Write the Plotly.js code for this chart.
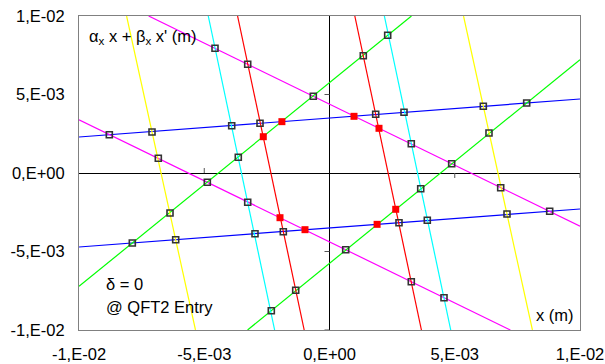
<!DOCTYPE html>
<html>
<head>
<meta charset="utf-8">
<script src="https://cdn.plot.ly/plotly-3.0.1.min.js"></script>
<style>html,body{margin:0;padding:0;background:#fff;}#chart{width:605px;height:364px;}</style>
</head>
<body>
<div id="chart"></div>
<script>
// ---- Line series (endpoints, metres) ----
const blueUpperX = [-0.01, 0.01];        const blueUpperY = [0.002293, 0.004713];
const blueLowerX = [-0.01, 0.01];        const blueLowerY = [-0.004713, -0.002293];
const magentaUpperX = [-0.00722, 0.01];  const magentaUpperY = [0.01, -0.00339];
const magentaLowerX = [-0.01, 0.00722];  const magentaLowerY = [0.00339, -0.01];
const greenLeftX = [-0.01, 0.003272];    const greenLeftY = [-0.00722, 0.01];
const greenRightX = [-0.003272, 0.01];   const greenRightY = [-0.01, 0.00722];
const yellowLeftX = [-0.0081, -0.00535]; const yellowLeftY = [0.01, -0.01];
const yellowRightX = [0.00535, 0.0081];  const yellowRightY = [0.01, -0.01];
const cyanLeftX = [-0.00484, -0.00219];  const cyanLeftY = [0.01, -0.01];
const cyanRightX = [0.00219, 0.00484];   const cyanRightY = [0.01, -0.01];
const redLeftX = [-0.00367, -0.00101];   const redLeftY = [0.01, -0.01];
const redRightX = [0.00101, 0.00367];    const redRightY = [0.01, -0.01];

// ---- Crossing points (hollow square markers) ----
const crossX = [-0.004571, 0.004571, -0.003265, 0.003265, -0.000647, 0.000647,
  0.001349, -0.001349, 0.002323, -0.002323, 0.001844, -0.001844,
  0.002974, -0.002974, 0.006140, -0.006140, 0.007872, -0.007872,
  -0.008790, 0.008790, -0.007086, 0.007086, -0.006834, 0.006834,
  -0.006367, 0.006367, -0.003904, 0.003904, -0.002774, 0.002774,
  -0.003641, 0.003641, -0.004878, 0.004878, -0.003265, 0.003265];
const crossY = [0.007943, -0.007943, 0.006924, -0.006924, 0.004885, -0.004885,
  0.007471, -0.007471, 0.008771, -0.008771, 0.003739, -0.003739,
  0.003866, -0.003866, 0.004248, -0.004248, 0.004459, -0.004459,
  0.002439, -0.002439, 0.002611, -0.002611, 0.000936, -0.000936,
  -0.002548, 0.002548, 0.003013, -0.003013, 0.003166, -0.003166,
  0.001000, -0.001000, -0.000592, 0.000592, -0.001866, 0.001866];

// ---- Acceptance polygon vertices (red squares) ----
const vertexX = [-0.002643, -0.001900, 0.000978, 0.001976, 0.002643, 0.001900, -0.000978, -0.001976];
const vertexY = [0.002312, 0.003270, 0.003610, 0.002847, -0.002312, -0.003270, -0.003610, -0.002847];

// ---- Tick labels ----
const tickVals = [-0.01, -0.005, 0, 0.005, 0.01];
const tickText = ['-1,E-02', '-5,E-03', '0,E+00', '5,E-03', '1,E-02'];

const lineW = 1.2;
function ln(x, y, c) {
  return {x: x, y: y, type: 'scatter', mode: 'lines', line: {color: c, width: lineW}, hoverinfo: 'skip', showlegend: false};
}
const traces = [
  ln(blueUpperX, blueUpperY, '#0000FF'), ln(blueLowerX, blueLowerY, '#0000FF'),
  ln(magentaUpperX, magentaUpperY, '#FF00FF'), ln(magentaLowerX, magentaLowerY, '#FF00FF'),
  ln(greenLeftX, greenLeftY, '#00FF00'), ln(greenRightX, greenRightY, '#00FF00'),
  ln(yellowLeftX, yellowLeftY, '#FFFF00'), ln(yellowRightX, yellowRightY, '#FFFF00'),
  ln(cyanLeftX, cyanLeftY, '#00FFFF'), ln(cyanRightX, cyanRightY, '#00FFFF'),
  ln(redLeftX, redLeftY, '#FF0000'), ln(redRightX, redRightY, '#FF0000'),
  {x: crossX, y: crossY, type: 'scatter', mode: 'markers', showlegend: false,
   marker: {symbol: 'square-open', size: 6, color: '#333333', line: {width: 1.6, color: '#333333'}}},
  {x: vertexX, y: vertexY, type: 'scatter', mode: 'markers', showlegend: false,
   marker: {symbol: 'square', size: 7, color: '#FF0000', line: {width: 0}}}
];

const fontFam = '"Liberation Sans", Arial, sans-serif';
const axisCommon = {
  range: [-0.01, 0.01], autorange: false,
  tickmode: 'array', tickvals: tickVals, ticktext: tickText,
  showgrid: false, zeroline: true, zerolinecolor: '#000000', zerolinewidth: 1,
  showline: true, mirror: true, linecolor: '#808080', linewidth: 1,
  ticks: '', tickfont: {family: fontFam, size: 16.5, color: '#000000'}
};

function tick(xv, yv, dir) {
  // small tick marks on the zero axes (pixel-sized)
  if (dir === 'down' || dir === 'up') {
    return {type: 'line', xref: 'x', yref: 'y', ysizemode: 'pixel', yanchor: yv,
      x0: xv, x1: xv, y0: 0, y1: dir === 'down' ? -5 : 5, line: {color: '#555555', width: 1}};
  }
  return {type: 'line', xref: 'x', yref: 'y', xsizemode: 'pixel', xanchor: xv,
    y0: yv, y1: yv, x0: 0, x1: -5, line: {color: '#555555', width: 1}};
}

const layout = {
  width: 605, height: 364,
  margin: {l: 79, r: 25, t: 16, b: 34, pad: 0},
  paper_bgcolor: '#FFFFFF', plot_bgcolor: '#FFFFFF',
  font: {family: fontFam, size: 16.5, color: '#000000'},
  xaxis: Object.assign({}, axisCommon, {ticklabelstandoff: 9}),
  yaxis: Object.assign({}, axisCommon, {ticklabelstandoff: 10}),
  shapes: [
    tick(-0.005, 0, 'up'), tick(0.005, 0, 'down'), tick(0.01, 0, 'down'),
    tick(0, 0.005, 'left'), tick(0, -0.005, 'left'), tick(0, -0.01, 'left')
  ],
  annotations: [
    {xref: 'paper', yref: 'paper', x: 0.016, y: 0.933, xanchor: 'left', yanchor: 'middle', showarrow: false,
     text: 'α<sub>x</sub> x + β<sub>x</sub> x\' (m)', font: {family: fontFam, size: 16.5, color: '#000'}},
    {xref: 'paper', yref: 'paper', x: 0.05, y: 0.1465, xanchor: 'left', yanchor: 'middle', showarrow: false,
     text: 'δ = 0', font: {family: fontFam, size: 16.5, color: '#000'}},
    {xref: 'paper', yref: 'paper', x: 0.05, y: 0.0732, xanchor: 'left', yanchor: 'middle', showarrow: false,
     text: '@ QFT2 Entry', font: {family: fontFam, size: 16.5, color: '#000'}},
    {xref: 'paper', yref: 'paper', x: 0.908, y: 0.049, xanchor: 'left', yanchor: 'middle', showarrow: false,
     text: 'x (m)', font: {family: fontFam, size: 16.5, color: '#000'}}
  ]
};

Plotly.newPlot('chart', traces, layout, {staticPlot: true, displayModeBar: false});
</script>
</body>
</html>
